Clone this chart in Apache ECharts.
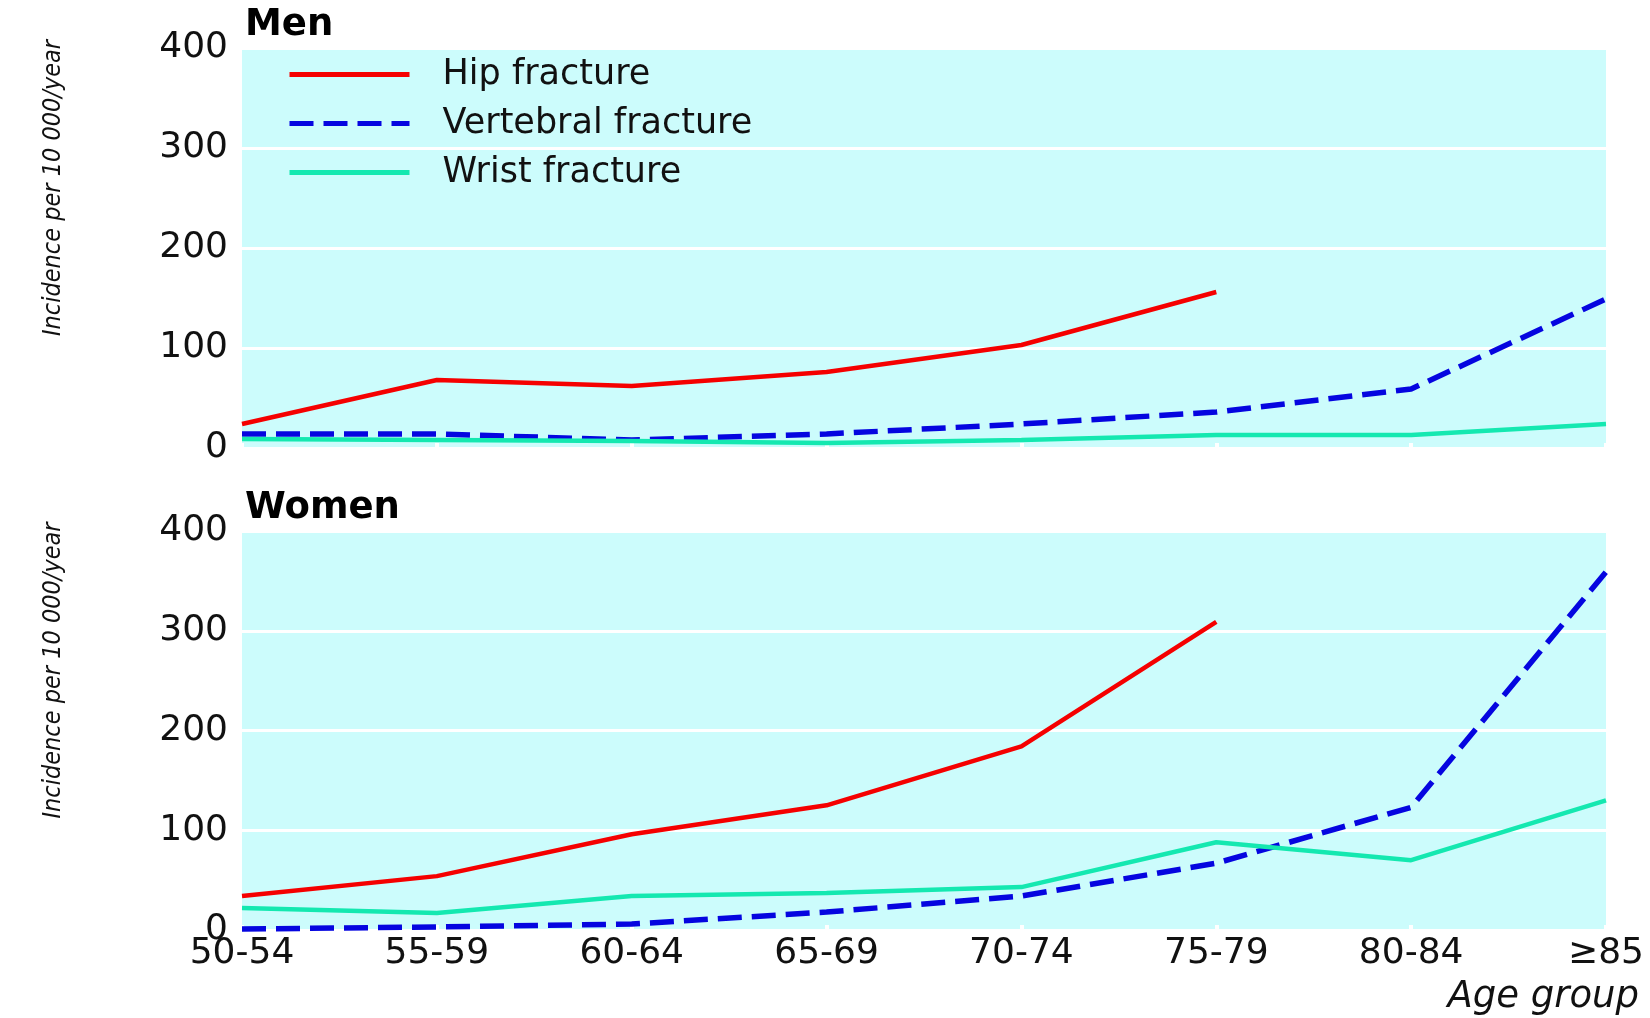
<!DOCTYPE html>
<html>
<head>
<meta charset="utf-8">
<script src="https://cdn.jsdelivr.net/npm/echarts@6/dist/echarts.min.js"></script>
<style>
html,body{margin:0;padding:0;background:#fff;}
#chart{width:1650px;height:1018px;}
</style>
</head>
<body>
<div id="chart"></div>
<script>
const ageGroups = ['50-54','55-59','60-64','65-69','70-74','75-79','80-84','≥85'];
const yTicks = [0,100,200,300,400];
const seriesNames = ['Hip fracture','Vertebral fracture','Wrist fracture'];

const menHip        = [24, 68, 62, 76, 103, 156, null, null];
const menVertebral  = [14, 14, 8, 14, 24, 36, 59, 149];
const menWrist      = [9, 8, 7, 5, 8, 13, 13, 24];

const womenHip       = [34, 54, 96, 125, 184, 309, null, null];
const womenVertebral = [1, 3, 6, 18, 34, 67, 123, 359];
const womenWrist     = [22, 17, 34, 37, 43, 88, 70, 130];

const panelTitles = ['Men','Women'];
const yAxisName = 'Incidence per 10 000/year';
const xAxisName = 'Age group';

const RED = '#f50000', BLUE = '#0505e0', GREEN = '#14e8b0', BG = '#ccfcfc';
const FONT = 'DejaVu Sans';

function mkX(idx, showLabels){
  return {
    type:'category', gridIndex:idx, data:ageGroups, boundaryGap:false,
    axisLine:{show:false},
    axisTick:{show:true, inside:true, length:5, lineStyle:{color:'#ffffff', width:4}},
    axisLabel:{show:showLabels, color:'#111', fontFamily:FONT, fontSize:36, margin:6}
  };
}
function mkY(idx){
  return {
    type:'value', gridIndex:idx, min:yTicks[0], max:yTicks[yTicks.length-1], interval:100,
    axisLine:{show:false}, axisTick:{show:false},
    splitLine:{show:true, lineStyle:{color:'#ffffff', width:3}},
    axisLabel:{color:'#111', fontFamily:FONT, fontSize:36, margin:14, padding:[0,0,8,0]},
    name:yAxisName, nameLocation:'middle', nameGap:176, nameRotate:90,
    nameTextStyle:{fontFamily:'DejaVu Sans Condensed', fontStyle:'italic', fontSize:25, color:'#111', padding:[0,0,0,120]}
  };
}
function mkLine(name, data, color, dashed, idx){
  return {
    name:name, type:'line', xAxisIndex:idx, yAxisIndex:idx, data:data,
    symbol:'none', clip:false, connectNulls:false, animation:false,
    lineStyle:{color:color, width:dashed?5.5:4.5, type:dashed?[24,10]:'solid'},
    itemStyle:{color:color}
  };
}

const chart = echarts.init(document.getElementById('chart'));
chart.setOption({
  backgroundColor:'#ffffff',
  animation:false,
  title:[
    {text:panelTitles[0], left:240, top:2, textStyle:{fontFamily:FONT, fontWeight:900, fontSize:37, color:'#000'}},
    {text:panelTitles[1], left:240, top:485, textStyle:{fontFamily:FONT, fontWeight:900, fontSize:37, color:'#000'}},
    {text:xAxisName, right:6, top:974, textStyle:{fontFamily:FONT, fontStyle:'italic', fontWeight:'normal', fontSize:37, color:'#111'}}
  ],
  legend:{
    data:seriesNames, orient:'vertical', left:282, top:52,
    itemWidth:120, itemHeight:30, itemGap:14,
    itemStyle:{opacity:0},
    lineStyle:{width:5},
    textStyle:{fontFamily:FONT, fontSize:35, color:'#111', padding:[0,0,0,28]}
  },
  grid:[
    {left:242, top:48, width:1364, height:400, show:true, backgroundColor:BG, borderWidth:0, containLabel:false},
    {left:242, top:531, width:1364, height:399, show:true, backgroundColor:BG, borderWidth:0, containLabel:false}
  ],
  xAxis:[mkX(0,false), mkX(1,true)],
  yAxis:[mkY(0), mkY(1)],
  series:[
    mkLine(seriesNames[0], menHip, RED, false, 0),
    mkLine(seriesNames[1], menVertebral, BLUE, true, 0),
    mkLine(seriesNames[2], menWrist, GREEN, false, 0),
    mkLine(seriesNames[0], womenHip, RED, false, 1),
    mkLine(seriesNames[1], womenVertebral, BLUE, true, 1),
    mkLine(seriesNames[2], womenWrist, GREEN, false, 1)
  ]
});
</script>
</body>
</html>
